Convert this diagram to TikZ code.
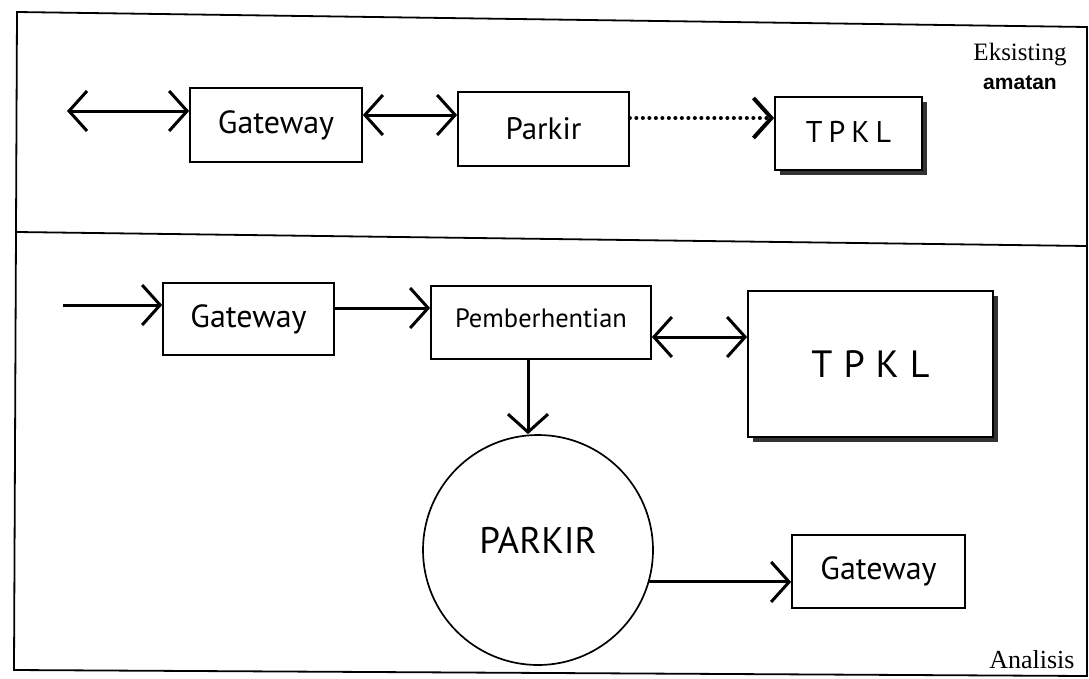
\documentclass[tikz,border=0pt]{standalone}
\usepackage{fontspec}
\setmainfont{PT Sans}
\newfontfamily\capserif{Liberation Serif}
\newfontfamily\capsans{Liberation Sans}
\usetikzlibrary{arrows.meta,shadows}

\begin{document}
\begin{tikzpicture}[x=1pt,y=-1pt,
  blk/.style={draw=black,line width=1.7pt,fill=white,inner sep=0pt,align=center},
  lbl/.style={font=\fontsize{32}{34}\selectfont},
  tip/.style={-{Straight Barb[length=18pt,width=40pt]}},
  both/.style={{Straight Barb[length=18pt,width=40pt]}-{Straight Barb[length=18pt,width=40pt]}},
  link/.style={line width=3pt},
  dots/.style={line width=4pt,line cap=round,dash pattern=on 0pt off 6.5pt},
  shd/.style={drop shadow={shadow xshift=5pt,shadow yshift=-5pt,fill=black!80,opacity=1}}
]
\useasboundingbox (0,0) rectangle (1089,678);

% outer frame and the line between the two panels
\coordinate (fTL) at (17,12);
\coordinate (fTR) at (1087,27);
\coordinate (fBR) at (1087,676);
\coordinate (fBL) at (14,670);
\coordinate (dL) at (17,232);
\coordinate (dR) at (1087,246);
\draw[line width=1.8pt] (fTL) -- (fTR) -- (fBR) -- (fBL) -- cycle;
\draw[line width=1.8pt] (dL) -- (dR);

% upper panel
\coordinate (in1) at (67,111);
\node[blk,lbl,minimum width=172pt,minimum height=74pt] (gw1) at (276,125) {Gateway};
\node[blk,font=\fontsize{31}{34}\selectfont,minimum width=171pt,minimum height=74pt] (pk1) at (543.5,129) {Parkir};
\node[blk,shd,font=\fontsize{30}{34}\selectfont,minimum width=147pt,minimum height=73pt] (tp1) at (848.5,133.5) {\raisebox{4pt}{T\hspace{6pt}P\hspace{6pt}K\hspace{6pt}L}};

\draw[link,both] (in1) -- (in1 -| gw1.west);
\draw[link,both] ([yshift=10pt]gw1.east) -- ([yshift=10pt]gw1.east -| pk1.west);
\draw[dots,tip] ([yshift=11pt]pk1.east) -- ([yshift=11pt]pk1.east -| tp1.west);

\node[font=\capserif\fontsize{25}{28}\selectfont,anchor=base] (eks) at (1020,60) {Eksisting};
\node[font=\capsans\bfseries\fontsize{21}{24}\selectfont,anchor=base] (amt) at (1020,89) {amatan};

% lower panel
\coordinate (in2) at (63,305);
\node[blk,lbl,minimum width=171pt,minimum height=72pt] (gw2) at (248.5,319) {Gateway};
\node[blk,font=\fontsize{26.5}{28}\selectfont,minimum width=220pt,minimum height=73pt] (pem) at (541,322.5) {\raisebox{8pt}{Pemberhentian}};
\node[blk,shd,font=\fontsize{38}{40}\selectfont,minimum width=245pt,minimum height=146pt] (tp2) at (870.5,364) {T\hspace{11pt}P\hspace{11pt}K\hspace{11pt}L};
\node[blk,circle,font=\fontsize{37}{40}\selectfont,minimum size=230pt] (park) at (538,550) {\raisebox{20pt}{PARKIR}};
\node[blk,lbl,minimum width=173pt,minimum height=73pt] (gw3) at (878.5,571.5) {Gateway};

\draw[link,tip] (in2) -- (in2 -| gw2.west);
\draw[link,tip] ([yshift=11pt]gw2.east) -- ([yshift=11pt]gw2.east -| pem.west);
\draw[link,both] ([yshift=-14.5pt]pem.east) -- ([yshift=-14.5pt]pem.east -| tp2.west);
\draw[link,tip] ([xshift=-13pt]pem.south) -- ([xshift=-13pt]pem.south |- park.north);
\draw[link,tip] (park.-16) -- (park.-16 -| gw3.west);

\node[font=\capserif\fontsize{26}{28}\selectfont,anchor=base east] (ana) at (1078,668) {Analisis};
\end{tikzpicture}
\end{document}
